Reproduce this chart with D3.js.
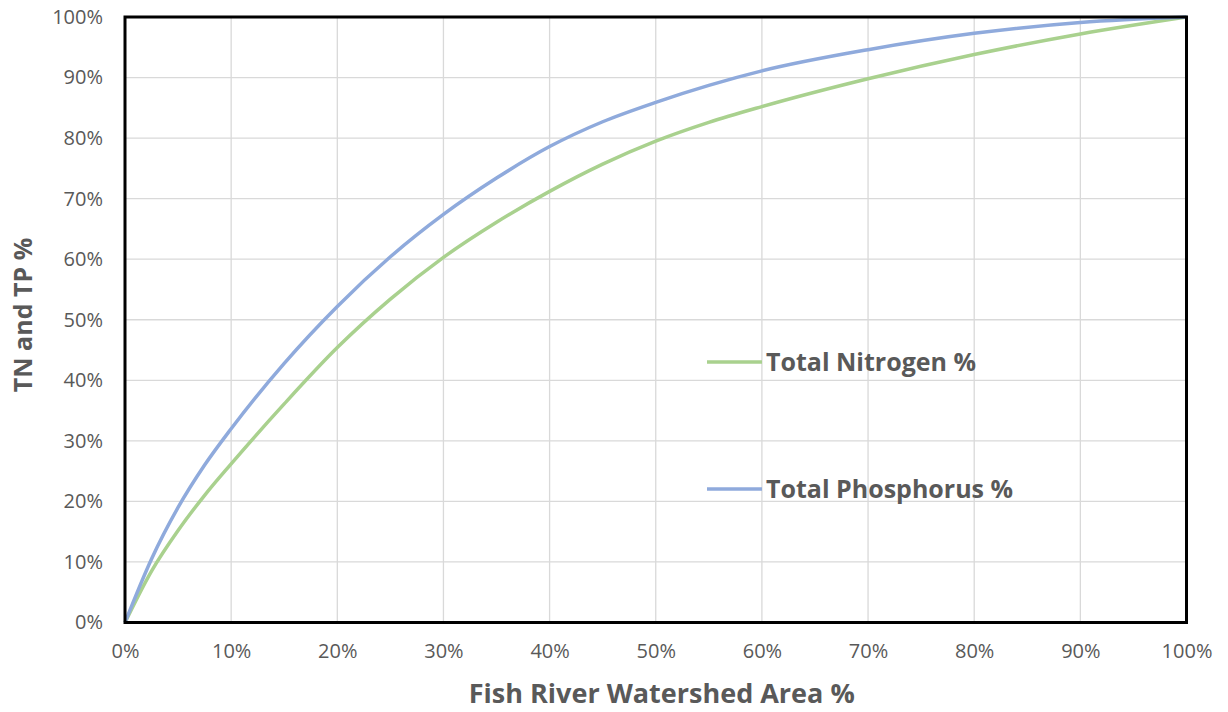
<!DOCTYPE html>
<html>
<head>
<meta charset="utf-8">
<script src="https://cdn.jsdelivr.net/npm/d3@7"></script>
<style>
  body { margin: 0; background: #fff; }
  text { font-family: "Open Sans", sans-serif; fill: #595959; }
</style>
</head>
<body>
<div id="chart"></div>
<script>
// watershed area % (x) and cumulative load % (y)
var areaPct = [0, 2.5, 5, 7.5, 10, 15, 20, 25, 30, 35, 40, 45, 50, 55, 60, 70, 80, 90, 100];
var nitrogenPct = [0, 8.5, 15.2, 21, 26.2, 36.1, 45.4, 53.4, 60.3, 66.1, 71.2, 75.7, 79.5, 82.6, 85.2, 89.8, 93.8, 97.2, 100];
var phosphorusPct = [0, 10.5, 19, 26, 32, 42.8, 52.2, 60.4, 67.4, 73.4, 78.6, 82.7, 85.9, 88.7, 91.1, 94.6, 97.3, 99.1, 100];
var tickValues = [0, 10, 20, 30, 40, 50, 60, 70, 80, 90, 100];
var seriesNames = ["Total Nitrogen %", "Total Phosphorus %"];

var width = 1228, height = 712;
var mLeft = 125, mTop = 17, mRight = 1186.5, mBottom = 622.5;

var green = "#a9d18e", blue = "#8faadc";

var svg = d3.select("#chart").append("svg")
    .attr("width", width)
    .attr("height", height);

var x = d3.scaleLinear().domain([0, 100]).range([mLeft, mRight]);
var y = d3.scaleLinear().domain([0, 100]).range([mBottom, mTop]);

// grid
svg.append("g")
    .selectAll("line")
    .data(tickValues)
    .enter().append("line")
    .attr("x1", function (d) { return x(d); })
    .attr("x2", function (d) { return x(d); })
    .attr("y1", mTop)
    .attr("y2", mBottom)
    .style("stroke", "#d9d9d9")
    .style("stroke-width", 1.3);

svg.append("g")
    .selectAll("line")
    .data(tickValues)
    .enter().append("line")
    .attr("y1", function (d) { return y(d); })
    .attr("y2", function (d) { return y(d); })
    .attr("x1", mLeft)
    .attr("x2", mRight)
    .style("stroke", "#d9d9d9")
    .style("stroke-width", 1.3);

// axes (labels only)
var xAxis = svg.append("g")
    .attr("transform", "translate(0," + mBottom + ")")
    .call(d3.axisBottom(x).tickValues(tickValues).tickSize(0).tickPadding(21)
        .tickFormat(function (d) { return d + "%"; }));
xAxis.select(".domain").remove();
xAxis.selectAll("text").style("font-size", "20px").style("fill", "#595959")
    .style("font-family", "Open Sans");

var yAxis = svg.append("g")
    .attr("transform", "translate(" + mLeft + ",0)")
    .call(d3.axisLeft(y).tickValues(tickValues).tickSize(0).tickPadding(22)
        .tickFormat(function (d) { return d + "%"; }));
yAxis.select(".domain").remove();
yAxis.selectAll("text").style("font-size", "20px").style("fill", "#595959")
    .style("font-family", "Open Sans");

// lines
var line = d3.line()
    .x(function (d) { return x(d[0]); })
    .y(function (d) { return y(d[1]); })
    .curve(d3.curveMonotoneX);

svg.append("path")
    .datum(d3.zip(areaPct, nitrogenPct))
    .attr("d", line)
    .style("fill", "none")
    .style("stroke", green)
    .style("stroke-width", 3.5);

svg.append("path")
    .datum(d3.zip(areaPct, phosphorusPct))
    .attr("d", line)
    .style("fill", "none")
    .style("stroke", blue)
    .style("stroke-width", 3.5);

// frame
svg.append("rect")
    .attr("x", mLeft)
    .attr("y", mTop)
    .attr("width", mRight - mLeft)
    .attr("height", mBottom - mTop)
    .style("fill", "none")
    .style("stroke", "#000")
    .style("stroke-width", 3);

// legend
var legend = [[seriesNames[0], green, 362], [seriesNames[1], blue, 489]];
legend.forEach(function (l) {
    svg.append("line")
        .attr("x1", 707).attr("x2", 762)
        .attr("y1", l[2]).attr("y2", l[2])
        .style("stroke", l[1])
        .style("stroke-width", 3.5);
    svg.append("text")
        .attr("x", 766)
        .attr("y", l[2] + 9)
        .style("font-size", "25px")
        .style("font-weight", "bold")
        .text(l[0]);
});

// axis titles
svg.append("text")
    .attr("x", (mLeft + mRight) / 2 + 6)
    .attr("y", 703)
    .attr("text-anchor", "middle")
    .style("font-size", "27px")
    .style("font-weight", "bold")
    .text("Fish River Watershed Area %");

svg.append("text")
    .attr("transform", "translate(32," + 315 + ") rotate(-90)")
    .attr("text-anchor", "middle")
    .style("font-size", "25px")
    .style("font-weight", "bold")
    .text("TN and TP %");
</script>
</body>
</html>
